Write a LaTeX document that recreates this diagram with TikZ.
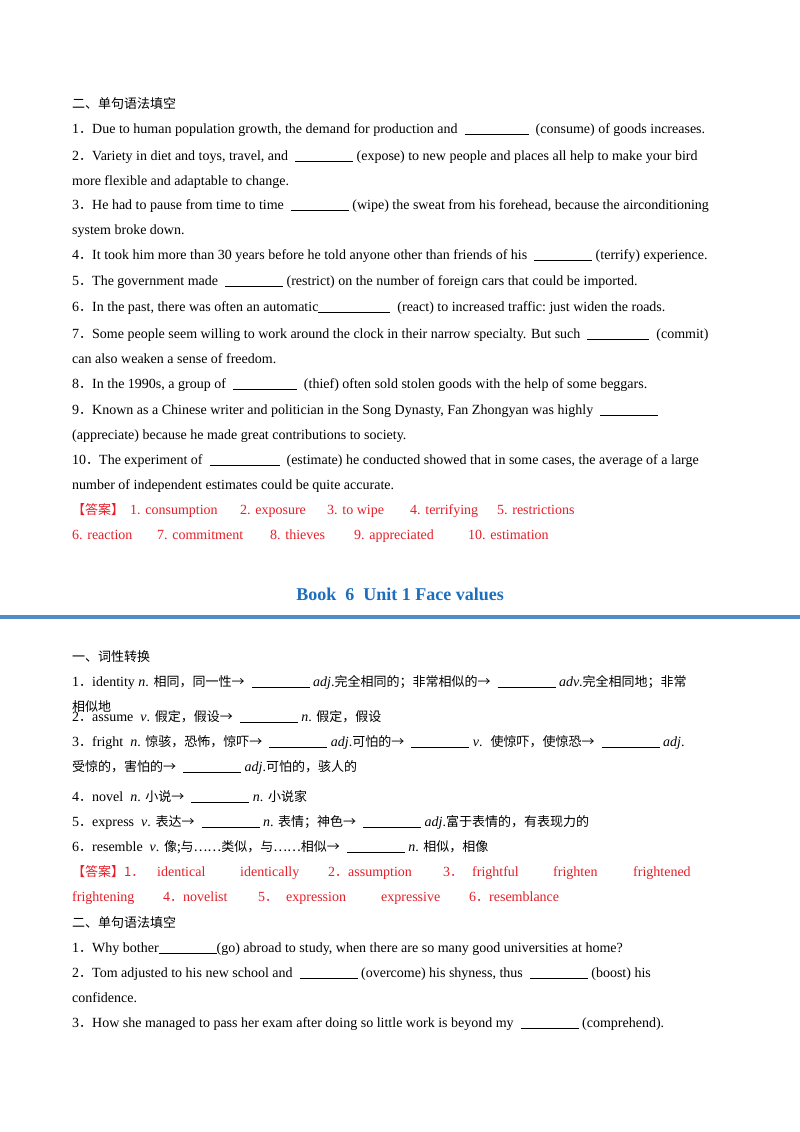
\documentclass[tikz,border=0pt]{standalone}
\usepackage{fontspec}
\setmainfont{Liberation Serif}
\newfontfamily\cjk{Noto Sans CJK SC}
\definecolor{ansred}{RGB}{230,30,40}
\definecolor{titleblue}{RGB}{30,110,190}
\definecolor{ruleblue}{RGB}{80,140,200}
\newcommand{\bl}[1][58]{\rule[-2pt]{#1pt}{0.6pt}}
\newcommand{\cj}[1]{{\cjk\fontsize{13}{15}\selectfont #1}}
\newcommand{\dt}{\cj{．}}
\begin{document}
\begin{tikzpicture}[x=1pt,y=-1pt,
  t/.style={anchor=base west,inner sep=0pt,font=\fontsize{14}{16}\selectfont},
  a/.style={t,text=ansred}]
\useasboundingbox (0,0) rectangle (800,1132);
\fill[white] (0,0) rectangle (800,1132);
\node[t] (s1) at (72,108) {\cj{二、单句语法填空}};
\node[t] (l1) at (72,133) {1\dt Due to human population growth, the demand for production and \ \bl[64] \ (consume) of goods increases.};
\node[t] (l2) at (72,160) {2\dt Variety in diet and toys, travel, and \ \bl \ (expose) to new people and places all help to make your bird};
\node[t] (l2b) at (72,185) {more flexible and adaptable to change.};
\node[t] (l3) at (72,209) {3\dt He had to pause from time to time \ \bl \ (wipe) the sweat from his forehead, because the airconditioning};
\node[t] (l3b) at (72,234) {system broke down.};
\node[t] (l4) at (72,259) {4\dt It took him more than 30 years before he told anyone other than friends of his \ \bl \ (terrify) experience.};
\node[t] (l5) at (72,285) {5\dt The government made \ \bl \ (restrict) on the number of foreign cars that could be imported.};
\node[t] (l6) at (72,311) {6\dt In the past, there was often an automatic\bl[72] \ (react) to increased traffic:\ just widen the roads.};
\node[t] (l7) at (72,338) {7\dt Some people seem willing to work around the clock in their narrow specialty. But such \ \bl[62] \ (commit)};
\node[t] (l7b) at (72,363) {can also weaken a sense of freedom.};
\node[t] (l8) at (72,388) {8\dt In the 1990s, a group of \ \bl[64] \ (thief) often sold stolen goods with the help of some beggars.};
\node[t] (l9) at (72,414) {9\dt Known as a Chinese writer and politician in the Song Dynasty, Fan Zhongyan was highly \ \bl};
\node[t] (l9b) at (72,439) {(appreciate) because he made great contributions to society.};
\node[t] (l10) at (72,464) {10\dt The experiment of \ \bl[70] \ (estimate) he conducted showed that in some cases, the average of a large};
\node[t] (l10b) at (72,489) {number of independent estimates could be quite accurate.};
\node[a] (k0) at (72,514) {\cj{【答案】}};
\node[a] (k1) at (130,514) {1. consumption};
\node[a] (k2) at (240,514) {2. exposure};
\node[a] (k3) at (327,514) {3. to wipe};
\node[a] (k4) at (410,514) {4. terrifying};
\node[a] (k5) at (497,514) {5. restrictions};
\node[a] (k6) at (72,539) {6. reaction};
\node[a] (k7) at (157,539) {7. commitment};
\node[a] (k8) at (270,539) {8. thieves};
\node[a] (k9) at (354,539) {9. appreciated};
\node[a] (k10) at (468,539) {10. estimation};
\node[anchor=base,inner sep=0pt,text=titleblue,font=\fontsize{18}{21}\selectfont\bfseries] (title) at (400,600) {Book\ \ 6\ \ Unit 1 Face values};
\fill[ruleblue] (0,615) rectangle (800,619);
\node[t] (s2) at (72,661) {\cj{一、词性转换}};
\node[t] (m1) at (72,686) {1\dt identity \textit{n}. \cj{相同，同一性→} \ \bl \ \textit{adj}.\cj{完全相同的；非常相似的→} \ \bl \ \textit{adv}.\cj{完全相同地；非常}};
\node[t] (m1b) at (72,711) {\cj{相似地}};
\node[t] (m2) at (72,721) {2\dt assume \ \textit{v}. \cj{假定，假设→} \ \bl \ \textit{n}. \cj{假定，假设}};
\node[t] (m3) at (72,746) {3\dt fright \ \textit{n}. \cj{惊骇，恐怖，惊吓→} \ \bl \ \textit{adj}.\cj{可怕的→} \ \bl \ \textit{v}. \ \cj{使惊吓，使惊恐→} \ \bl \ \textit{adj}.};
\node[t] (m3b) at (72,771) {\cj{受惊的，害怕的→} \ \bl \ \textit{adj}.\cj{可怕的，骇人的}};
\node[t] (m4) at (72,801) {4\dt novel \ \textit{n}. \cj{小说→} \ \bl \ \textit{n}. \cj{小说家}};
\node[t] (m5) at (72,826) {5\dt express \ \textit{v}. \cj{表达→} \ \bl \ \textit{n}. \cj{表情；神色→} \ \bl \ \textit{adj}.\cj{富于表情的，有表现力的}};
\node[t] (m6) at (72,851) {6\dt resemble \ \textit{v}. \cj{像;与……类似，与……相似→} \ \bl \ \textit{n}. \cj{相似，相像}};
\node[a] (j0) at (72,876) {\cj{【答案】1．}};
\node[a] (j1) at (157,876) {identical};
\node[a] (j2) at (240,876) {identically};
\node[a] (j3) at (328,876) {2\cj{．}assumption};
\node[a] (j4) at (443,876) {3\cj{．}};
\node[a] (j5) at (472,876) {frightful};
\node[a] (j6) at (553,876) {frighten};
\node[a] (j7) at (633,876) {frightened};
\node[a] (j8) at (72,901) {frightening};
\node[a] (j9) at (163,901) {4\cj{．}novelist};
\node[a] (j10) at (258,901) {5\cj{．}};
\node[a] (j11) at (286,901) {expression};
\node[a] (j12) at (381,901) {expressive};
\node[a] (j13) at (469,901) {6\cj{．}resemblance};
\node[t] (s3) at (72,927) {\cj{二、单句语法填空}};
\node[t] (n1) at (72,952) {1\dt Why bother\bl(go) abroad to study, when there are so many good universities at home?};
\node[t] (n2) at (72,977) {2\dt Tom adjusted to his new school and \ \bl \ (overcome) his shyness, thus \ \bl \ (boost) his};
\node[t] (n2b) at (72,1002) {confidence.};
\node[t] (n3) at (72,1027) {3\dt How she managed to pass her exam after doing so little work is beyond my \ \bl \ (comprehend).};
\end{tikzpicture}
\end{document}
